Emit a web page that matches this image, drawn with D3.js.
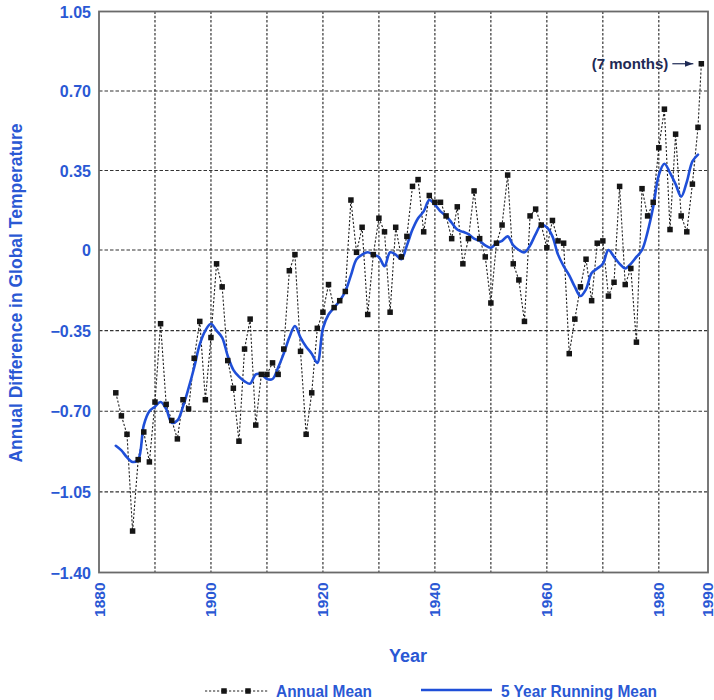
<!DOCTYPE html>
<html><head><meta charset="utf-8">
<script src="https://cdn.jsdelivr.net/npm/d3@7/dist/d3.min.js"></script>
<style>body{margin:0;background:#fff}svg{display:block}</style>
</head><body>
<svg id="chart" width="714" height="700"></svg>
<script>
// ---- data ----
const annualYears = d3.range(1883, 1989);
const annualMean = [
 -0.62, -0.72, -0.80, -1.22, -0.91, -0.79, -0.92, -0.66, -0.32, -0.67,
 -0.74, -0.82, -0.65, -0.69, -0.47, -0.31, -0.65, -0.38, -0.06, -0.16,
 -0.48, -0.60, -0.83, -0.43, -0.30, -0.76, -0.54, -0.54, -0.49, -0.54,
 -0.43, -0.09, -0.02, -0.44, -0.80, -0.62, -0.34, -0.27, -0.15, -0.25,
 -0.22, -0.18, 0.22, -0.01, 0.10, -0.28, -0.02, 0.14, 0.08, -0.27,
 0.10, -0.03, 0.06, 0.28, 0.31, 0.08, 0.24, 0.21, 0.21, 0.15,
 0.05, 0.19, -0.06, 0.05, 0.26, 0.05, -0.03, -0.23, 0.03, 0.11,
 0.33, -0.06, -0.13, -0.31, 0.15, 0.18, 0.11, 0.01, 0.13, 0.04,
 0.03, -0.45, -0.30, -0.16, -0.04, -0.22, 0.03, 0.04, -0.20, -0.14,
 0.28, -0.15, -0.08, -0.40, 0.27, 0.15, 0.21, 0.45, 0.62, 0.09,
 0.51, 0.15, 0.08, 0.29, 0.54, 0.82
];
const runningYears = d3.range(1883, 1988);
const runningMean = [
 -0.85, -0.87, -0.90, -0.92, -0.91, -0.76, -0.70, -0.68, -0.66, -0.69,
 -0.75, -0.74, -0.68, -0.60, -0.51, -0.41, -0.35, -0.32, -0.35, -0.38,
 -0.46, -0.52, -0.55, -0.57, -0.58, -0.54, -0.54, -0.56, -0.56, -0.51,
 -0.45, -0.38, -0.33, -0.38, -0.42, -0.45, -0.49, -0.34, -0.28, -0.25,
 -0.22, -0.18, -0.11, -0.04, -0.02, -0.01, -0.02, -0.03, -0.07, -0.01,
 -0.02, -0.04, 0.02, 0.09, 0.14, 0.17, 0.22, 0.20, 0.17, 0.15,
 0.12, 0.09, 0.08, 0.07, 0.05, 0.04, 0.02, 0.01, 0.03, 0.04,
 0.06, 0.02, 0.00, -0.01, 0.02, 0.07, 0.11, 0.10, 0.06, -0.02,
 -0.07, -0.11, -0.16, -0.20, -0.17, -0.10, -0.08, -0.06, 0.00, -0.03,
 -0.06, -0.08, -0.06, -0.03, 0.00, 0.08, 0.19, 0.33, 0.38, 0.34,
 0.29, 0.235, 0.30, 0.39, 0.42
];
const yTicks = [1.05, 0.70, 0.35, 0, -0.35, -0.70, -1.05, -1.40];
const xGrid = [1890, 1900, 1910, 1920, 1930, 1940, 1950, 1960, 1970, 1980];
const xLabels = [1880, 1900, 1920, 1940, 1960, 1980, 1990];
const yTitle = "Annual Difference in Global Temperature";
const xTitle = "Year";
const legendLabels = ["Annual Mean", "5 Year Running Mean"];
const noteText = "(7 months)";

// ---- styles ----
const BLUE_TEXT = "#2a58d4";
const BLUE_LINE = "#1f4fd8";
const FONT = "'Liberation Sans', Arial, sans-serif";

const svg = d3.select("#chart");
const x = d3.scaleLinear().domain([1880, 1987, 1990]).range([99, 698, 708]);
const y = d3.scaleLinear().domain([-1.40, 0, 1.05]).range([572.5, 250, 11.5]);

const annual = annualYears.map((yr, i) => ({yr, v: annualMean[i]}));
const running = runningYears.map((yr, i) => ({yr, v: runningMean[i]}));

// grid
const g = svg.append("g");
g.selectAll(".hg").data(yTicks.filter(t => t > -1.40 && t < 1.05)).join("line")
  .attr("x1", x(1880)).attr("x2", x(1990))
  .attr("y1", d => y(d)).attr("y2", d => y(d))
  .attr("stroke", "#333").attr("stroke-width", 1.2).attr("stroke-dasharray", "3.5,2");
g.selectAll(".vg").data(xGrid).join("line")
  .attr("x1", d => x(d)).attr("x2", d => x(d))
  .attr("y1", y(1.05)).attr("y2", y(-1.40))
  .attr("stroke", "#333").attr("stroke-width", 1.2).attr("stroke-dasharray", "2.5,1.8");

// annual mean dashed line
svg.append("path").datum(annual)
  .attr("d", d3.line().x(d => x(d.yr)).y(d => y(d.v)))
  .attr("fill", "none").attr("stroke", "#222").attr("stroke-width", 1.1)
  .attr("stroke-dasharray", "2.2,1.8");

// running mean
svg.append("path").datum(running)
  .attr("d", d3.line().curve(d3.curveCatmullRom.alpha(0.5)).x(d => x(d.yr)).y(d => y(d.v)))
  .attr("fill", "none").attr("stroke", BLUE_LINE).attr("stroke-width", 2.6)
  .attr("stroke-linejoin", "round").attr("stroke-linecap", "round");

// markers
const ms = 5.5;
svg.append("g").selectAll("rect").data(annual).join("rect")
  .attr("x", d => x(d.yr) - ms / 2).attr("y", d => y(d.v) - ms / 2)
  .attr("width", ms).attr("height", ms).attr("fill", "#151515");

// frame
svg.append("rect")
  .attr("x", x(1880)).attr("y", y(1.05))
  .attr("width", x(1990) - x(1880)).attr("height", y(-1.40) - y(1.05))
  .attr("fill", "none").attr("stroke", "#6a6a6a").attr("stroke-width", 1.8);

// y tick labels
svg.append("g").selectAll("text").data(yTicks).join("text")
  .attr("x", x(1880) - 8).attr("y", d => y(d) + 6)
  .attr("text-anchor", "end")
  .attr("font-family", FONT).attr("font-weight", "bold").attr("font-size", 16)
  .attr("fill", BLUE_TEXT)
  .text(d => d === 0 ? "0" : (d < 0 ? "\u2212" + Math.abs(d).toFixed(2) : d.toFixed(2)));

// x tick labels (rotated)
svg.append("g").selectAll("text").data(xLabels).join("text")
  .attr("transform", d => `translate(${Math.min(x(d) + 5.5, 712.5)},${y(-1.40) + 10}) rotate(-90)`)
  .attr("text-anchor", "end")
  .attr("font-family", FONT).attr("font-weight", "bold").attr("font-size", 15.5)
  .attr("fill", BLUE_TEXT)
  .text(d => d);

// axis titles
svg.append("text")
  .attr("transform", `translate(22,${(y(1.05) + y(-1.40)) / 2 + 1}) rotate(-90)`)
  .attr("text-anchor", "middle")
  .attr("font-family", FONT).attr("font-weight", "bold").attr("font-size", 17.5)
  .attr("fill", BLUE_TEXT).text(yTitle);

svg.append("text")
  .attr("x", 408).attr("y", 662).attr("text-anchor", "middle")
  .attr("font-family", FONT).attr("font-weight", "bold").attr("font-size", 18)
  .attr("fill", BLUE_TEXT).text(xTitle);

// legend
const lg = svg.append("g");
lg.append("line").attr("x1", 205).attr("x2", 268).attr("y1", 691).attr("y2", 691)
  .attr("stroke", "#222").attr("stroke-width", 1.1).attr("stroke-dasharray", "2.2,1.8");
lg.selectAll("rect").data([224, 248]).join("rect")
  .attr("x", d => d - ms / 2).attr("y", 691 - ms / 2).attr("width", ms).attr("height", ms)
  .attr("fill", "#151515");
lg.append("text").attr("x", 276).attr("y", 697)
  .attr("font-family", FONT).attr("font-weight", "bold").attr("font-size", 16.5)
  .attr("textLength", 96).attr("lengthAdjust", "spacingAndGlyphs")
  .attr("fill", BLUE_TEXT).text(legendLabels[0]);
lg.append("line").attr("x1", 421).attr("x2", 492).attr("y1", 690).attr("y2", 690)
  .attr("stroke", BLUE_LINE).attr("stroke-width", 2.6);
lg.append("text").attr("x", 501).attr("y", 697)
  .attr("font-family", FONT).attr("font-weight", "bold").attr("font-size", 16.5)
  .attr("textLength", 156).attr("lengthAdjust", "spacingAndGlyphs")
  .attr("fill", BLUE_TEXT).text(legendLabels[1]);

// note for last point
const last = annual[annual.length - 1];
svg.append("defs").append("marker").attr("id", "ah")
  .attr("viewBox", "0 0 10 10").attr("refX", 10).attr("refY", 5)
  .attr("markerWidth", 7).attr("markerHeight", 7).attr("orient", "auto")
  .append("path").attr("d", "M0,1.5L10,5L0,8.5Z").attr("fill", "#1e2a55");
svg.append("line")
  .attr("x1", x(last.yr) - 29).attr("x2", x(last.yr) - 8)
  .attr("y1", y(last.v)).attr("y2", y(last.v))
  .attr("stroke", "#1e2a55").attr("stroke-width", 1.2).attr("marker-end", "url(#ah)");
svg.append("text")
  .attr("x", x(last.yr) - 33).attr("y", y(last.v) + 5.5)
  .attr("text-anchor", "end")
  .attr("font-family", FONT).attr("font-weight", "bold").attr("font-size", 15)
  .attr("fill", "#1e2a55").text(noteText);
</script>
</body></html>
